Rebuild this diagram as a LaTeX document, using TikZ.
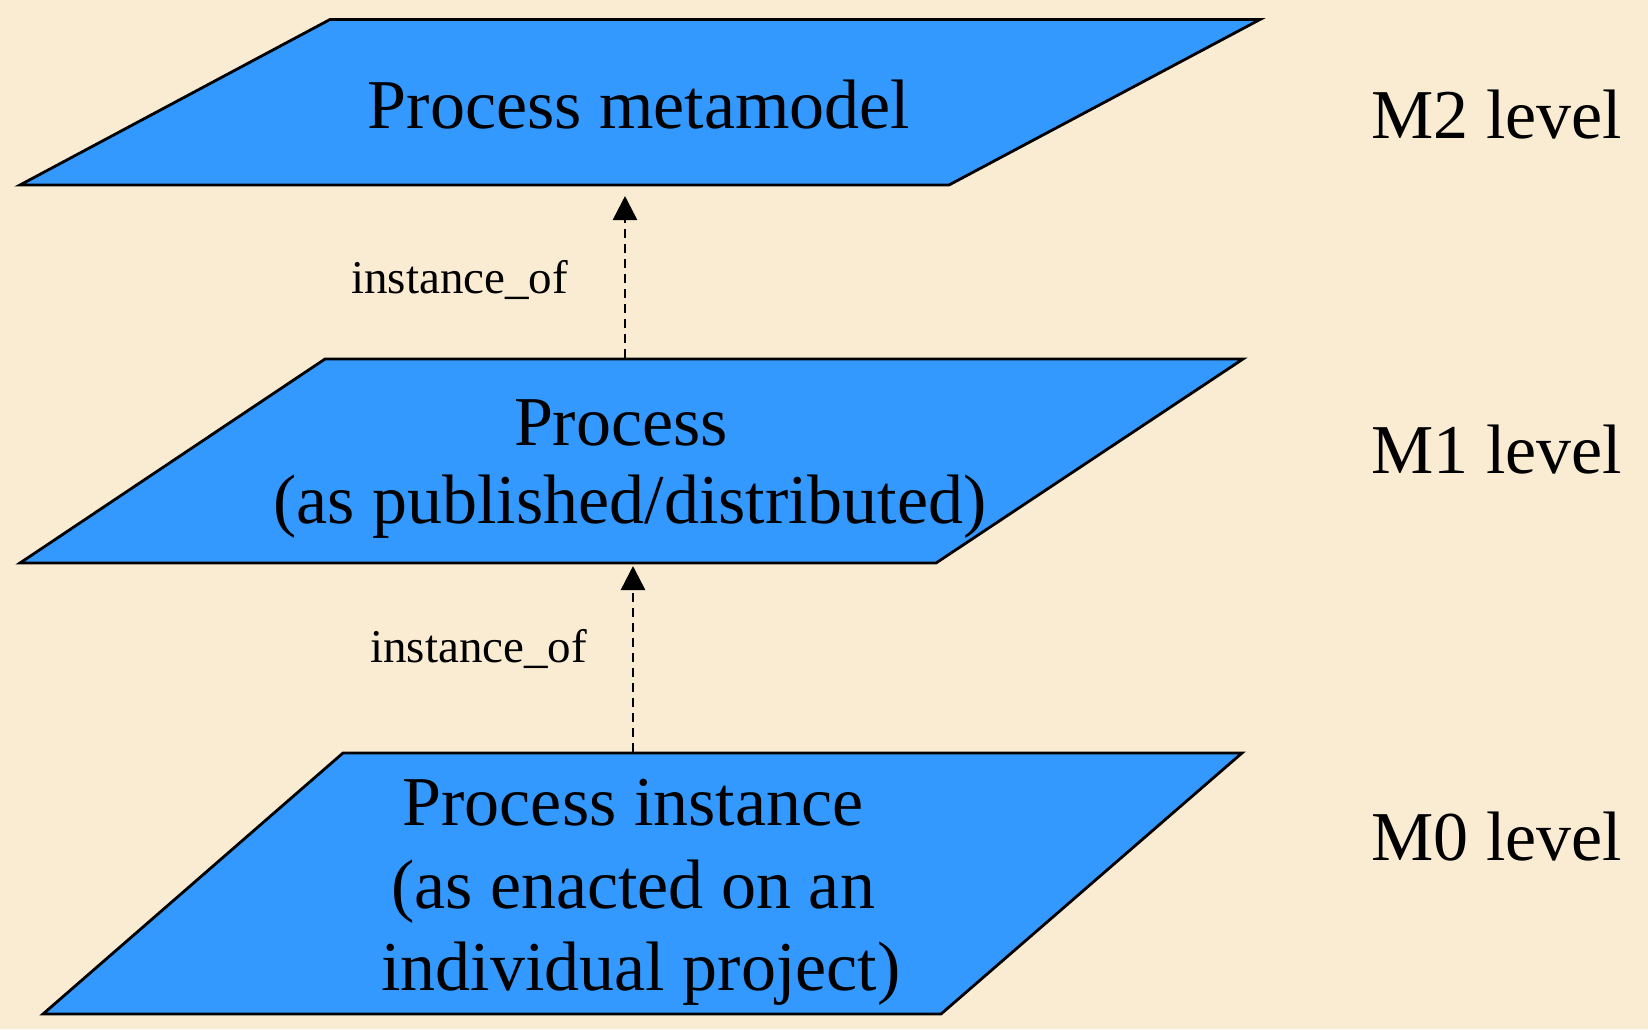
\documentclass[tikz,border=0pt]{standalone}
\usepackage{fontspec}
\setmainfont{Liberation Serif}
\usetikzlibrary{arrows.meta}

\definecolor{paper}{RGB}{249,236,210}
\definecolor{planeblue}{RGB}{51,153,255}

\begin{document}
\begin{tikzpicture}[x=0.5pt,y=-0.5pt,
  plane/.style={draw=black,fill=planeblue,line width=1.4pt,line join=miter},
  bigtext/.style={font=\fontsize{35}{40}\selectfont,inner sep=0pt,anchor=base},
  leveltext/.style={font=\fontsize{35}{40}\selectfont,inner sep=0pt,anchor=base west},
  linktext/.style={font=\fontsize{23.5}{28}\selectfont,inner sep=0pt,anchor=base west},
  instlink/.style={draw=black,line width=1.3pt,dash pattern=on 4.5pt off 3pt,
    -{Triangle[length=12pt,width=12pt]}}]

  % background sheet
  \fill[paper] (0,0) rectangle (1648,1029);
  \useasboundingbox (0,0) rectangle (1648,1029);

  % M2 plane
  \coordinate (m2tl) at (330,19.5);
  \coordinate (m2tr) at (1260,19.5);
  \coordinate (m2br) at (949,185);
  \coordinate (m2bl) at (20,185);
  \draw[plane] (m2tl) -- (m2tr) -- (m2br) -- (m2bl) -- cycle;

  % M1 plane
  \coordinate (m1tl) at (325,359);
  \coordinate (m1tr) at (1243,359);
  \coordinate (m1br) at (936,563);
  \coordinate (m1bl) at (20,563);
  \draw[plane] (m1tl) -- (m1tr) -- (m1br) -- (m1bl) -- cycle;

  % M0 plane
  \coordinate (m0tl) at (343,753);
  \coordinate (m0tr) at (1242,753);
  \coordinate (m0br) at (941,1014);
  \coordinate (m0bl) at (43,1014);
  \draw[plane] (m0tl) -- (m0tr) -- (m0br) -- (m0bl) -- cycle;

  % plane captions
  \node[bigtext] (m2text) at (639,128) {Process metamodel};
  \node[bigtext] (m1texta) at (621,445) {Process};
  \node[bigtext] (m1textb) at (630,523) {(as published/distributed)};
  \node[bigtext] (m0texta) at (633,825) {Process instance};
  \node[bigtext] (m0textb) at (633,908) {(as enacted on an};
  \node[bigtext] (m0textc) at (641,990) {individual project)};

  % level names
  \node[leveltext] (lvl2) at (1371,138) {M2 level};
  \node[leveltext] (lvl1) at (1371,473) {M1 level};
  \node[leveltext] (lvl0) at (1371,860) {M0 level};

  % instance_of links
  \coordinate (link1from) at (625,358);
  \coordinate (link1to) at (625,196);
  \coordinate (link2from) at (633,752);
  \coordinate (link2to) at (633,566);
  \draw[instlink] (link1from) -- (link1to);
  \draw[instlink] (link2from) -- (link2to);
  \node[linktext] (inst1) at (351,293) {instance\_of};
  \node[linktext] (inst2) at (370,662) {instance\_of};
\end{tikzpicture}
\end{document}
